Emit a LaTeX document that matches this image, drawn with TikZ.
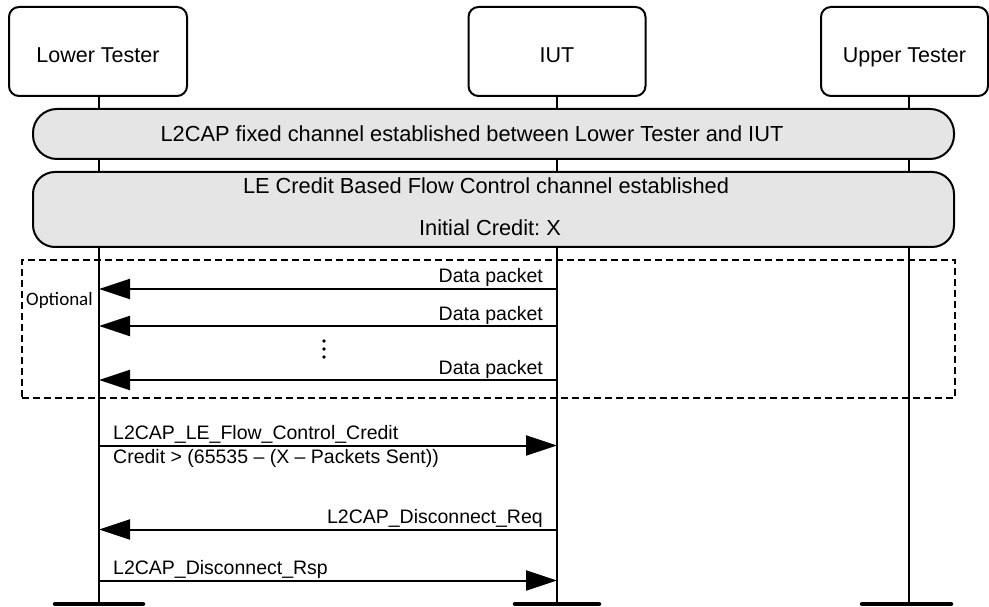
\documentclass[tikz,border=0pt]{standalone}
\usepackage{fontspec}
\setmainfont{Liberation Sans}
\newfontfamily\optfont{Carlito}
\usetikzlibrary{arrows.meta}

\begin{document}
\frenchspacing
\begin{tikzpicture}[x=1pt,y=-1pt,
	>={Triangle[length=31pt,width=20pt]},
	actor/.style={draw,line width=2pt,rounded corners=10pt,
		minimum height=89pt,inner sep=0pt,text height=26pt,text depth=3pt,
		font=\fontsize{21.5}{26}\selectfont},
	lifeline/.style={line width=2pt},
	foot/.style={line width=4.5pt,line cap=round},
	bar/.style={draw,line width=2pt,fill=black!10,
		minimum width=921pt,inner sep=0pt},
	bartext/.style={font=\fontsize{21.8}{26}\selectfont},
	msg/.style={line width=2pt},
	lbl/.style={inner sep=0pt,font=\fontsize{19.5}{23}\selectfont}]
	\useasboundingbox (0,0) rectangle (989,607);

	% participants
	\node[actor,minimum width=178pt] (lt) at (98,51.5) {Lower Tester};
	\node[actor,minimum width=177pt] (iut) at (557,51.5) {IUT};
	\node[actor,minimum width=167pt] (ut) at (904.5,51.5) {Upper Tester};

	% lifelines
	\coordinate (ltend) at (99,604);
	\coordinate (iutend) at (557,604);
	\coordinate (utend) at (909,604);
	\draw[lifeline] (99,96) -- (ltend);
	\draw[lifeline] (557,96) -- (iutend);
	\draw[lifeline] (909,96) -- (utend);
	\draw[foot] (55,604) -- (143,604);
	\draw[foot] (515,604) -- (599,604);
	\draw[foot] (862,604) -- (951,604);

	% channels
	\node[bar,minimum height=50pt,rounded corners=24pt] (fixed) at (493.5,134) {};
	\node[bartext] (fixedtxt) at (472,134)
		{L2CAP fixed channel established between Lower Tester and IUT};
	\node[bar,minimum height=75pt,rounded corners=22pt] (credit) at (493.5,209.5) {};
	\node[bartext] (credittxt) at (486,186)
		{LE Credit Based Flow Control channel established};
	\node[bartext] (initial) at (490,228) {Initial Credit: X};

	% optional part
	\node[draw,line width=2pt,dash pattern=on 7pt off 4pt,
		minimum width=933pt,minimum height=138pt] (opt) at (488.5,329) {};
	\node[inner sep=0pt,anchor=west,font=\optfont\fontsize{19}{23}\selectfont]
		(optlbl) at (26,300) {Optional};
	\foreach \y/\n in {289/1,326/2,380/3}{
		\coordinate (a\n) at (557,\y);
		\coordinate (b\n) at (99,\y);
		\draw[msg,->] (a\n) -- (b\n);
		\node[lbl,anchor=base east] (data\n) at (543,\y-6) {Data packet};
	}
	\foreach \y in {341,349,357}
		\fill (324,\y) circle (1.8pt);

	% credit and disconnect
	\coordinate (c1) at (99,445.5);
	\coordinate (c2) at (557,445.5);
	\draw[msg,->] (c1) -- (c2);
	\node[lbl,anchor=base west] (flow) at (113,439.5)
		{L2CAP\_LE\_Flow\_Control\_Credit};
	\node[lbl,anchor=base west] (cond) at (113,463)
		{Credit > (65535 – (X – Packets Sent))};

	\coordinate (r1) at (557,529.5);
	\coordinate (r2) at (99,529.5);
	\draw[msg,->] (r1) -- (r2);
	\node[lbl,anchor=base east] (req) at (543,523.5) {L2CAP\_Disconnect\_Req};

	\coordinate (s1) at (99,580.5);
	\coordinate (s2) at (557,580.5);
	\draw[msg,->] (s1) -- (s2);
	\node[lbl,anchor=base west] (rsp) at (113,574.5) {L2CAP\_Disconnect\_Rsp};
\end{tikzpicture}
\end{document}
